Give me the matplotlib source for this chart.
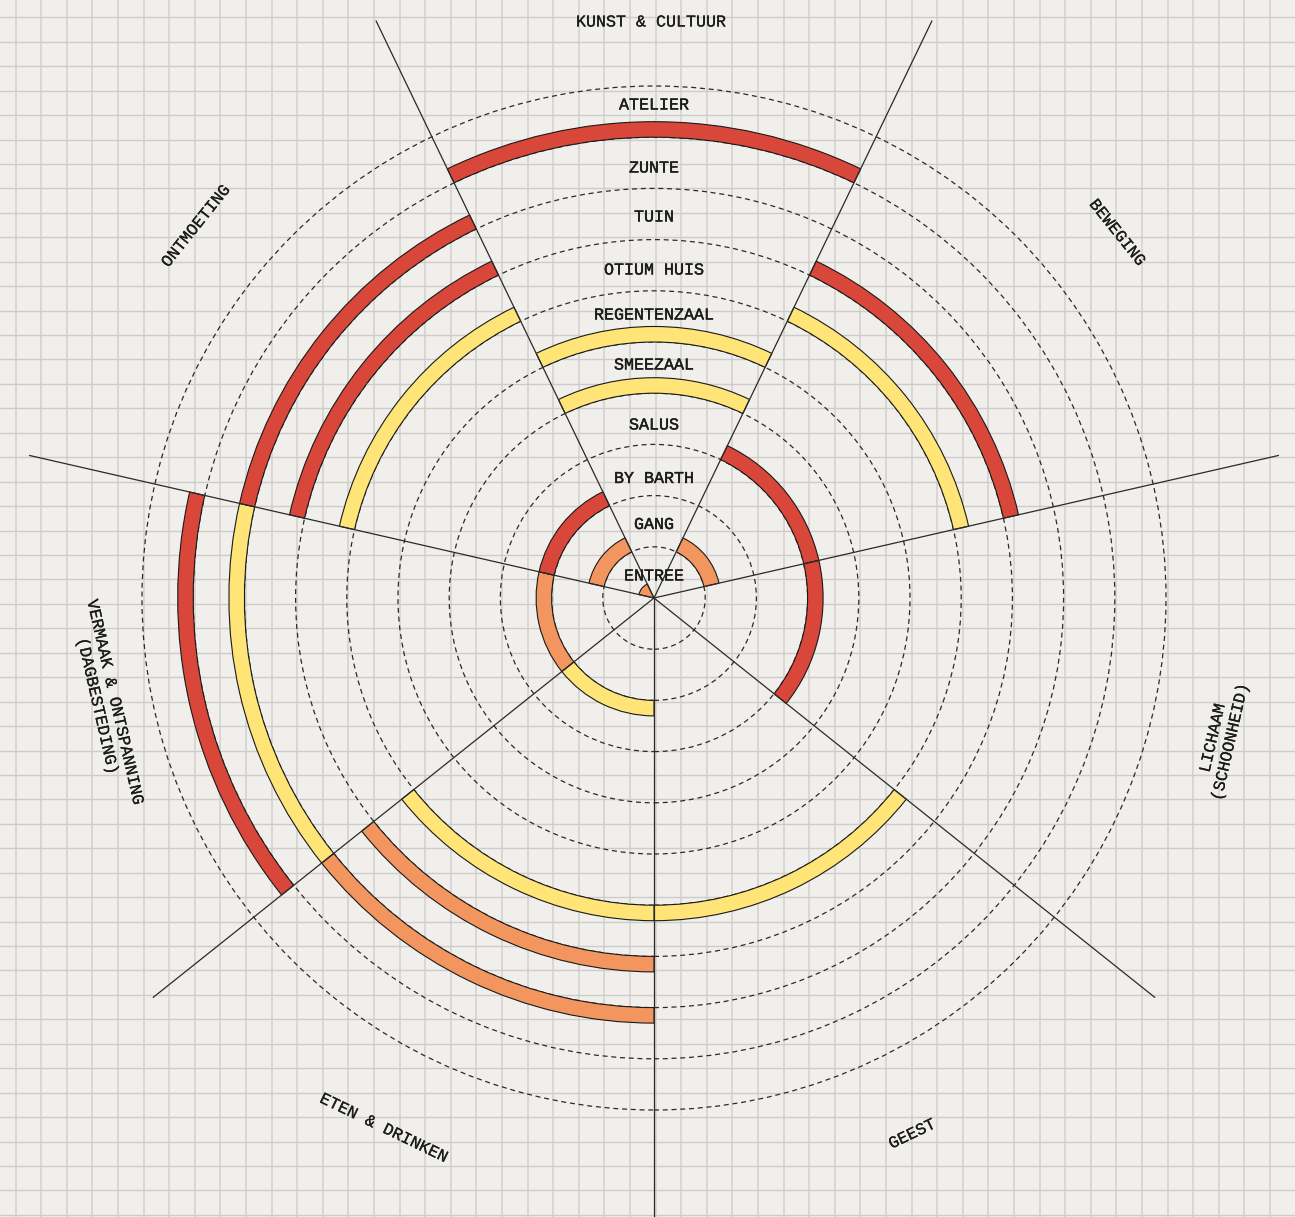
import numpy as np
import matplotlib
matplotlib.use("Agg")
import matplotlib.pyplot as plt
from matplotlib.patches import Wedge, Circle
import matplotlib.patheffects as pe

# ---------------- data ----------------
categories = ["KUNST & CULTUUR", "BEWEGING", "LICHAAM\n(SCHOONHEID)", "GEEST",
              "ETEN & DRINKEN", "VERMAAK & ONTSPANNING\n(DAGBESTEDING)", "ONTMOETING"]
rings = ["ENTREE", "GANG", "BY BARTH", "SALUS", "SMEEZAAL", "REGENTENZAAL",
         "OTIUM HUIS", "TUIN", "ZUNTE", "ATELIER"]
# level per ring per category (0 none, 1 yellow, 2 orange, 3 red)
entree       = [0, 0, 0, 0, 0, 0, 2]
gang         = [0, 2, 0, 0, 0, 0, 2]
by_barth     = [0, 0, 0, 0, 1, 2, 3]
salus        = [0, 3, 3, 0, 0, 0, 0]
smeezaal     = [1, 0, 0, 0, 0, 0, 0]
regentenzaal = [1, 0, 0, 0, 0, 0, 0]
otium_huis   = [0, 1, 0, 1, 1, 0, 1]
tuin         = [0, 3, 0, 0, 2, 0, 3]
zunte        = [0, 0, 0, 0, 2, 1, 3]
atelier      = [3, 0, 0, 0, 0, 3, 0]
levels = [entree, gang, by_barth, salus, smeezaal, regentenzaal,
          otium_huis, tuin, zunte, atelier]

# ---------------- style / layout ----------------
W, H = 1295, 1217
BG = "#f0efeb"
level_colors = {1: "#ffe577", 2: "#f3955f", 3: "#d9473a"}
cx, cy_down = 654, 598
cy = H - cy_down
step = 51.2
band = 15.5
spoke_len = 641
n = len(categories)
sec_w = 360.0 / n
mid_angles = [90 - i * sec_w for i in range(n)]
ring_label_r = [23, 74.5, 120.5, 174, 234, 284, 329, 382, 431, 494]
cat_label_r = [576, 590, 585, 595, 595, 558, 590]
cat_label_da = [0.3, -0.3, -1.2, 0.0, -1.3, -1.9, -0.5]

FONT = "Liberation Mono"
FS = 12
TXT = "#1c1c1c"
ring_fx = [pe.withStroke(linewidth=0.3, foreground=TXT)]
cat_fx = [pe.withStroke(linewidth=0.15, foreground=TXT)]

fig = plt.figure(figsize=(W / 100, H / 100), dpi=100)
fig.patch.set_facecolor(BG)
ax = fig.add_axes([0, 0, 1, 1])
ax.set_facecolor(BG)
ax.set_xlim(0, W)
ax.set_ylim(0, H)
ax.axis("off")

# background grid (pixel based)
x = 15.6
while x < W:
    ax.plot([x, x], [0, H], color="#d8d7d4", lw=1.4, zorder=0)
    x += 25.6
y = 17.3
while y < H:
    ax.plot([0, W], [H - y, H - y], color="#cdcccb", lw=1.0, zorder=0)
    y += 24.44

# dashed ring boundaries
for k in range(1, len(rings) + 1):
    ax.add_patch(Circle((cx, cy), k * step, fill=False, ls=(0, (4, 3)),
                        lw=0.9, edgecolor="#2a2a2a", zorder=1))

# arcs
for k, row in enumerate(levels):
    r_in = k * step
    for i, lv in enumerate(row):
        if lv == 0:
            continue
        t1 = mid_angles[i] - sec_w / 2
        t2 = mid_angles[i] + sec_w / 2
        if r_in == 0:
            w = Wedge((cx, cy), band, t1, t2)
        else:
            w = Wedge((cx, cy), r_in + band, t1, t2, width=band)
        w.set_facecolor(level_colors[lv])
        w.set_edgecolor("#1a1a1a")
        w.set_linewidth(0.8)
        w.set_zorder(2)
        ax.add_patch(w)

# spokes
for i in range(n):
    a = np.deg2rad(mid_angles[i] - sec_w / 2)
    ax.plot([cx, cx + spoke_len * np.cos(a)], [cy, cy + spoke_len * np.sin(a)],
            color="#2a2a2a", lw=0.9, zorder=3, solid_capstyle="butt")

# ring labels
for k, name in enumerate(rings):
    yb_down = cy_down - ring_label_r[k] + 5.5
    ax.text(cx, H - yb_down, name, ha="center", va="baseline", fontsize=FS,
            family=FONT, color=TXT, zorder=4, path_effects=ring_fx)

# category labels
for i, name in enumerate(categories):
    ang = mid_angles[i] + cat_label_da[i]
    a = np.deg2rad(ang)
    px = cx + cat_label_r[i] * np.cos(a)
    py = cy + cat_label_r[i] * np.sin(a)
    if np.sin(np.deg2rad(mid_angles[i])) > 0:
        rot = mid_angles[i] - 90
    else:
        rot = mid_angles[i] + 90
    ax.text(px, py, name, ha="center", va="center", rotation=rot,
            rotation_mode="anchor", multialignment="center", fontsize=FS,
            family=FONT, color=TXT, zorder=4, linespacing=1.25,
            path_effects=cat_fx)

fig.savefig("out.png", dpi=100, facecolor=BG)
